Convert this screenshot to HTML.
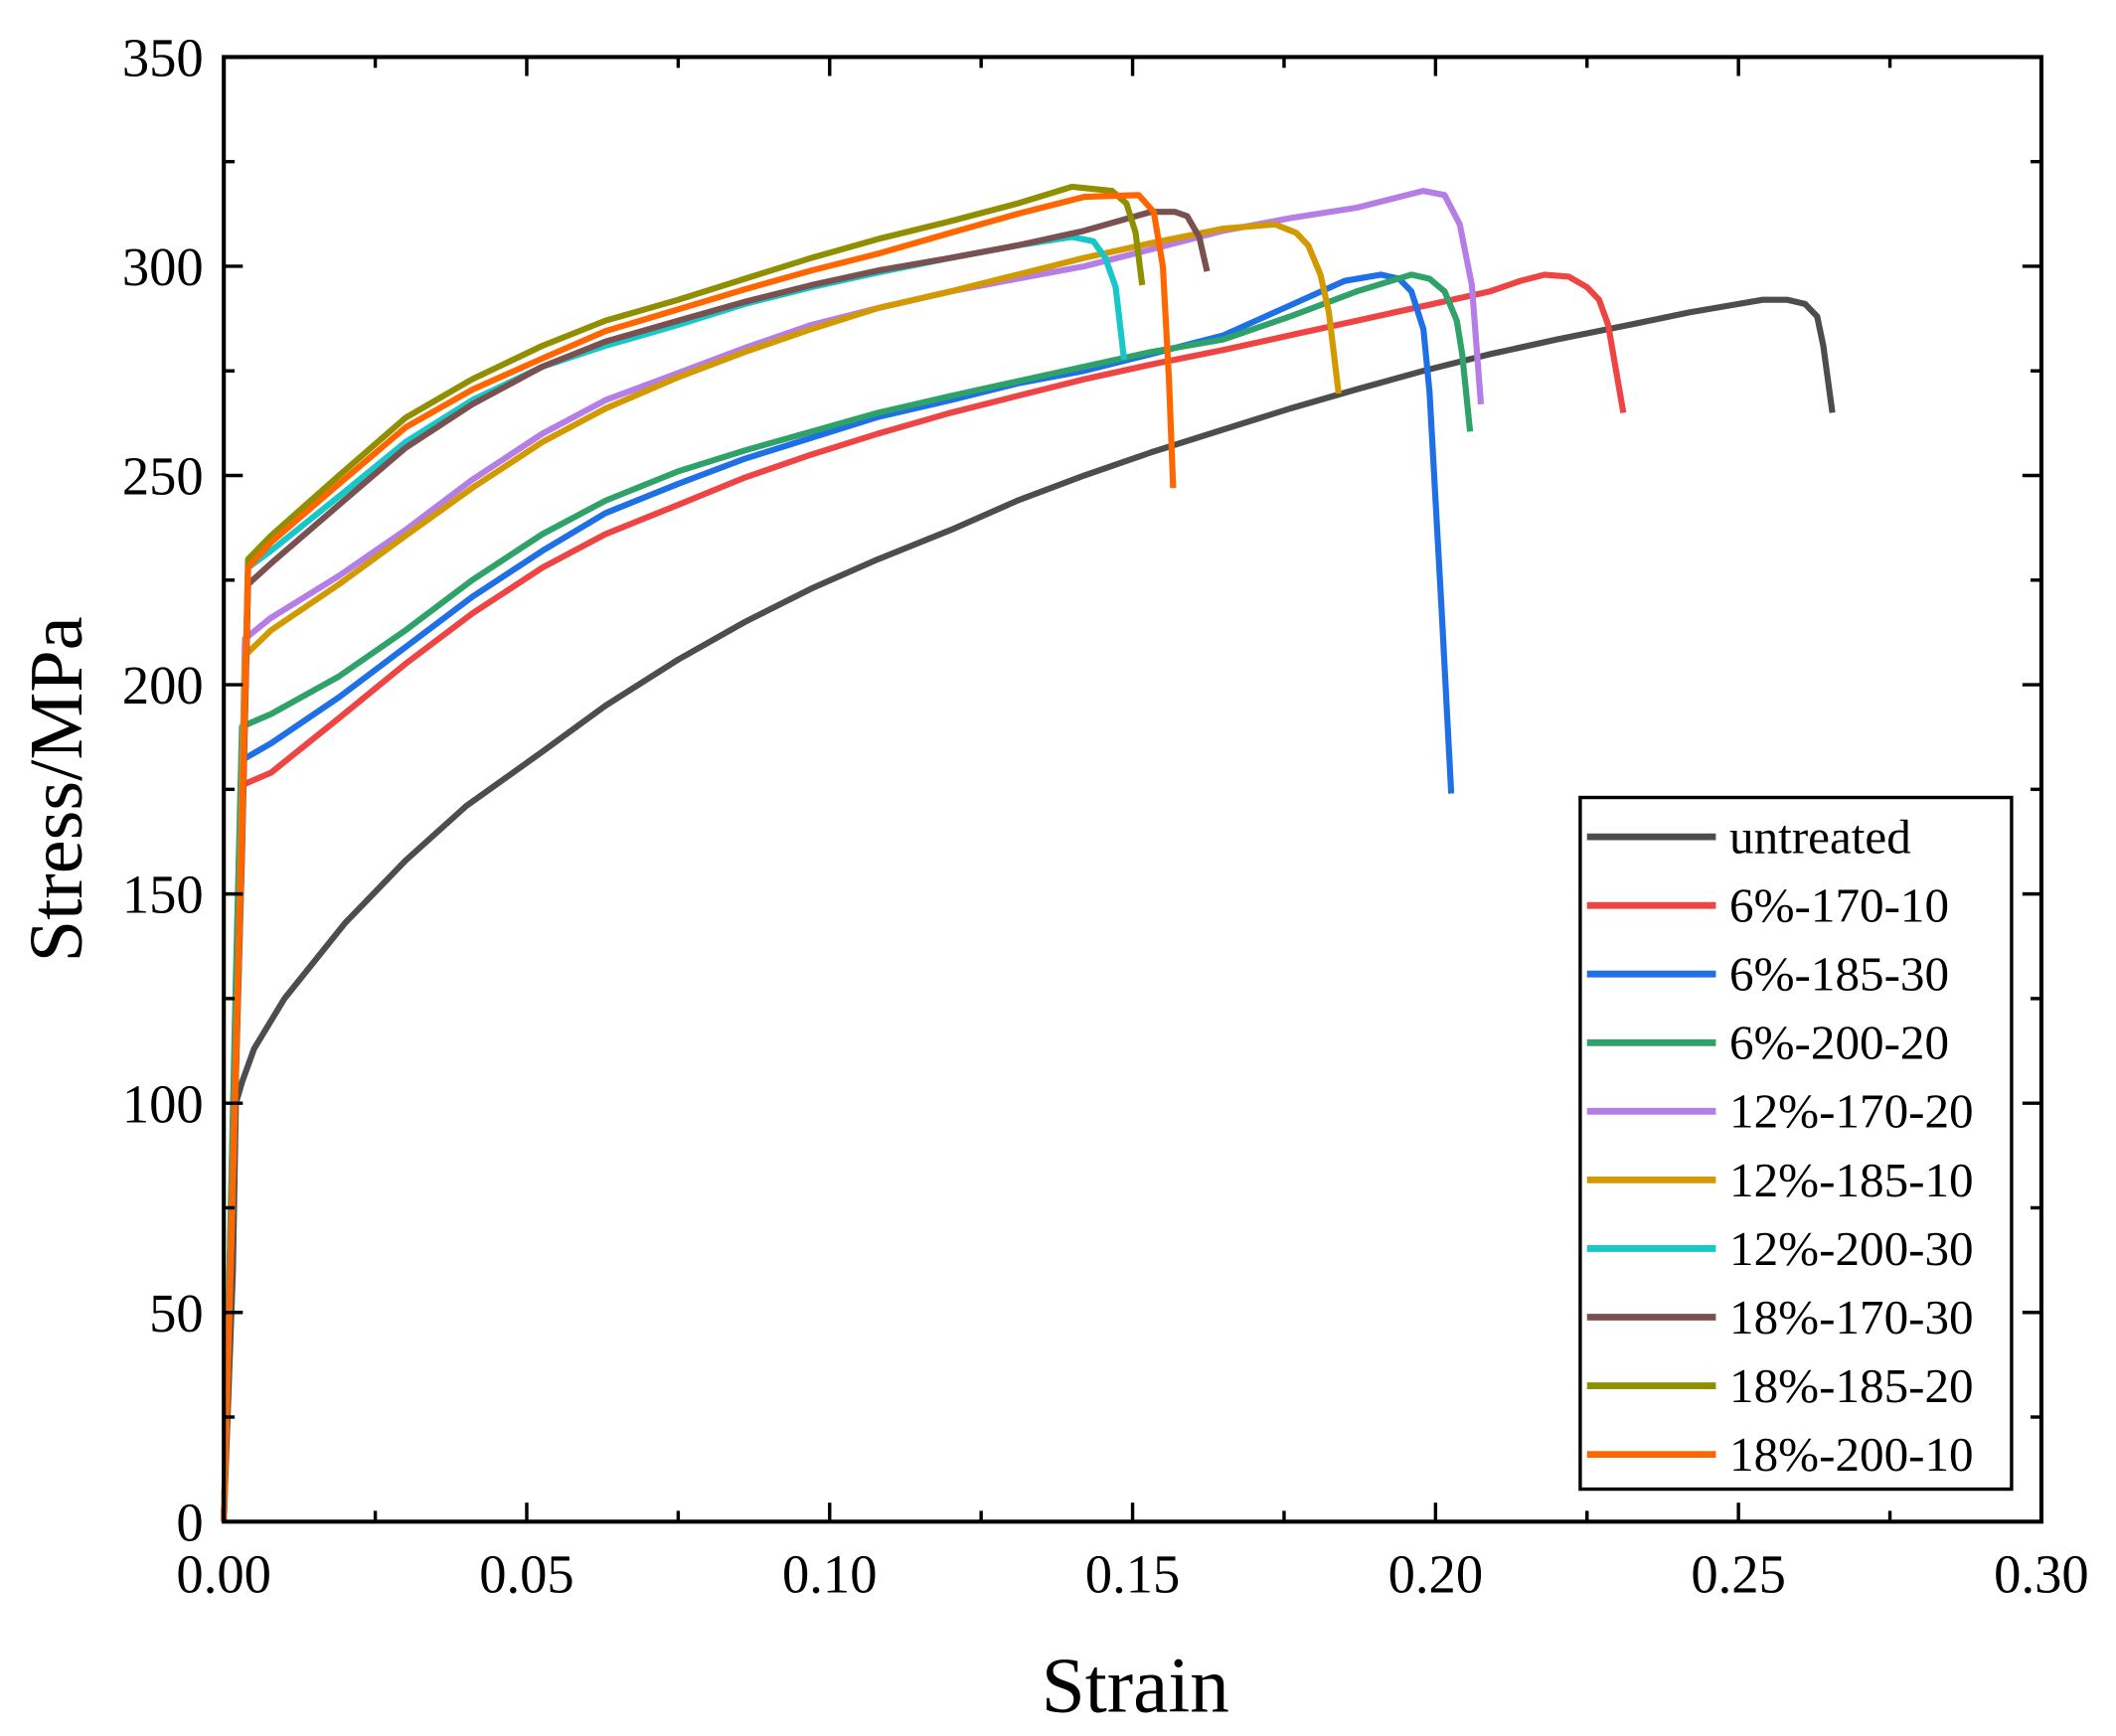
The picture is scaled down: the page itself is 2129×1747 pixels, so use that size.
<!DOCTYPE html>
<html><head><meta charset="utf-8"><style>
html,body{margin:0;padding:0;background:#fff}
svg{display:block}
text{font-family:"Liberation Serif",serif;fill:#000}
</style></head><body>
<svg id="chart" width="2129" height="1747" viewBox="0 0 1560 1280" xmlns="http://www.w3.org/2000/svg">
<g id="plot"></g>
</svg>
<script>
const xTicks=[0,0.05,0.10,0.15,0.20,0.25,0.30];
const xTickLabels=["0.00","0.05","0.10","0.15","0.20","0.25","0.30"];
const yTicks=[0,50,100,150,200,250,300,350];
const yTickLabels=["0","50","100","150","200","250","300","350"];
const seriesNames=["untreated","6%-170-10","6%-185-30","6%-200-20","12%-170-20","12%-185-10","12%-200-30","18%-170-30","18%-185-20","18%-200-10"];
const seriesColors=["#4d4d4d","#ef4444","#1f6fe6","#2fa26a","#b57ee6","#d29a00","#17c8c8","#7a5050","#8f8f00","#ff6600"];
const strainUntreated=[0,0.0015,0.002,0.003,0.005,0.01,0.02,0.030,0.04,0.0526,0.063,0.075,0.086,0.097,0.108,0.12,0.131,0.142,0.153,0.165,0.176,0.187,0.198,0.209,0.22,0.232,0.242,0.25,0.254,0.258,0.261,0.263,0.264,0.2655];
const stressUntreated=[0,60,100,105,113,125,143,158,171,184,195,206,215,223,230,237,244,250,255.5,261,266,270.6,275,279,282.5,286,289,291,292,292,291,288,281,265];
const strain6_170_10=[0,0.002,0.003,0.0078,0.019,0.030,0.041,0.0526,0.063,0.075,0.086,0.097,0.108,0.12,0.131,0.142,0.153,0.165,0.176,0.187,0.198,0.209,0.214,0.218,0.222,0.225,0.227,0.2285,0.231];
const stress6_170_10=[0,120,176,179,192,205,217,228,236,243,249.5,255,260,265,269,273,276.5,280,283.5,287,290.5,294,296.5,298,297.5,295,292,286,265];
const strain6_185_30=[0,0.002,0.003,0.0078,0.019,0.030,0.041,0.0526,0.063,0.075,0.086,0.097,0.108,0.12,0.131,0.142,0.153,0.165,0.175,0.185,0.191,0.194,0.196,0.198,0.199,0.201,0.2026];
const stress6_185_30=[0,125,182,186,197,209,221,232,241,248,254,259,264,268,272,275,279,283.5,290,296.5,298,297,294,285,270,218,174];
const strain6_200_20=[0,0.002,0.003,0.0078,0.019,0.030,0.041,0.0526,0.063,0.075,0.086,0.097,0.108,0.12,0.131,0.142,0.153,0.165,0.176,0.187,0.196,0.199,0.2015,0.2035,0.2044,0.2057];
const stress6_200_20=[0,130,190,193,202,213,225,236,244,251,256,260.5,265,269,272.5,276,279.5,282.5,288,294,298,297,294,287,279,260.5];
const strain12_170_20=[0,0.0025,0.0035,0.0078,0.019,0.030,0.041,0.0526,0.063,0.075,0.086,0.097,0.108,0.12,0.131,0.142,0.153,0.165,0.176,0.187,0.198,0.2015,0.204,0.206,0.2075];
const stress12_170_20=[0,140,211,216,226,237,249,260,268,274.5,280.5,286,290,294,297,300,304,308.5,311.5,314,318,317,310,295.5,267];
const strain12_185_10=[0,0.0025,0.0035,0.0078,0.019,0.030,0.041,0.0526,0.063,0.075,0.086,0.097,0.108,0.12,0.131,0.142,0.153,0.165,0.1735,0.177,0.179,0.181,0.1824,0.184];
const stress12_185_10=[0,140,207,213,224,235.6,247,258,266,273.5,279.5,285,290,294,298,302,305.5,309,310,308,305,298,289,269.6];
const strain12_200_30=[0,0.003,0.004,0.0078,0.019,0.030,0.041,0.0526,0.063,0.075,0.086,0.097,0.108,0.12,0.131,0.14,0.1435,0.1455,0.1472,0.1486];
const stress12_200_30=[0,160,228,232,245,258,268,276,281,286,291,295,298.5,302,305,307,306,302,295,277.7];
const strain18_170_30=[0,0.003,0.004,0.0078,0.019,0.030,0.041,0.0526,0.063,0.075,0.086,0.097,0.108,0.12,0.131,0.142,0.153,0.157,0.159,0.161,0.1623];
const stress18_170_30=[0,160,224,229,243,256.6,267,276,282,287,291.5,295.5,299,302,305,308.5,313,313,312,307,298.8];
const strain18_185_20=[0,0.003,0.004,0.0078,0.019,0.030,0.041,0.0526,0.063,0.075,0.086,0.097,0.108,0.12,0.131,0.14,0.1466,0.149,0.1505,0.1516];
const stress18_185_20=[0,165,230,235.6,250,263.8,273,281,287,292,297,302,306.5,310.8,315,319,318,315,308,295.5];
const strain18_200_10=[0,0.003,0.004,0.0078,0.019,0.030,0.041,0.0526,0.063,0.075,0.086,0.097,0.108,0.12,0.131,0.142,0.151,0.1535,0.155,0.156,0.1567];
const stress18_200_10=[0,165,228,234,248,261.5,270.5,278,284.5,289.7,294.5,299,303,308,312.5,316.6,317,313,300,273,247];
const allStrain=[strainUntreated,strain6_170_10,strain6_185_30,strain6_200_20,strain12_170_20,strain12_185_10,strain12_200_30,strain18_170_30,strain18_185_20,strain18_200_10];
const allStress=[stressUntreated,stress6_170_10,stress6_185_30,stress6_200_20,stress12_170_20,stress12_185_10,stress12_200_30,stress18_170_30,stress18_185_20,stress18_200_10];

const NS="http://www.w3.org/2000/svg";
const L=165,R=1505,T=42,B=1122;
const xs=v=>L+(v-0)/(0.3)*(R-L);
const ys=v=>B-(v/350)*(B-T);
const g=document.getElementById('plot');
function mk(tag,attrs,parent){const e=document.createElementNS(NS,tag);for(const k in attrs)e.setAttribute(k,attrs[k]);(parent||g).appendChild(e);return e;}

for(let s=0;s<seriesNames.length;s++){
  const pts=allStrain[s].map((x,i)=>xs(x).toFixed(1)+","+ys(allStress[s][i]).toFixed(1)).join(" ");
  const pl=mk('polyline',{points:pts,fill:"none",stroke:seriesColors[s],"stroke-width":4.5,"stroke-linejoin":"round"});
  
  
}
const fr=mk('rect',{x:L,y:T,width:R-L,height:B-T,fill:"none",stroke:"#000","stroke-width":3});


xTicks.forEach((v,i)=>{
  const x=xs(v);
  mk('line',{x1:x,y1:B,x2:x,y2:B-14,stroke:"#000","stroke-width":2.5});
  mk('line',{x1:x,y1:T,x2:x,y2:T+14,stroke:"#000","stroke-width":2.5});
  if(i<xTicks.length-1){const xm=xs(v+0.025);
    mk('line',{x1:xm,y1:B,x2:xm,y2:B-8,stroke:"#000","stroke-width":2.5});
    mk('line',{x1:xm,y1:T,x2:xm,y2:T+8,stroke:"#000","stroke-width":2.5});}
  const t=mk('text',{x:x,y:B+52,"font-size":40,"text-anchor":"middle"});
  t.textContent=xTickLabels[i];
  
  
});
yTicks.forEach((v,i)=>{
  const y=ys(v);
  mk('line',{x1:L,y1:y,x2:L+14,y2:y,stroke:"#000","stroke-width":2.5});
  mk('line',{x1:R,y1:y,x2:R-14,y2:y,stroke:"#000","stroke-width":2.5});
  if(i<yTicks.length-1){const ym=ys(v+25);
    mk('line',{x1:L,y1:ym,x2:L+8,y2:ym,stroke:"#000","stroke-width":2.5});
    mk('line',{x1:R,y1:ym,x2:R-8,y2:ym,stroke:"#000","stroke-width":2.5});}
  const t=mk('text',{x:150,y:y+14,"font-size":40,"text-anchor":"end"});
  t.textContent=yTickLabels[i];
  
  
});
const xt=mk('text',{x:837,y:1262,"font-size":58,"text-anchor":"middle"});
xt.textContent="Strain";


const yt=mk('text',{x:0,y:0,"font-size":56,"text-anchor":"middle",transform:"translate(60,582) rotate(-90)"});
yt.textContent="Stress/MPa";


const lg=mk('g',{});


mk('rect',{x:1165,y:588,width:318,height:510,fill:"#fff",stroke:"#000","stroke-width":2.5},lg);
seriesNames.forEach((n,i)=>{
  const y=617+i*50.6;
  const e=mk('g',{},lg);
  
  
  mk('line',{x1:1170,y1:y,x2:1265,y2:y,stroke:seriesColors[i],"stroke-width":5},e);
  const t=mk('text',{x:1275,y:y+12,"font-size":36},e);
  t.textContent=n;
});
</script>
</body></html>
